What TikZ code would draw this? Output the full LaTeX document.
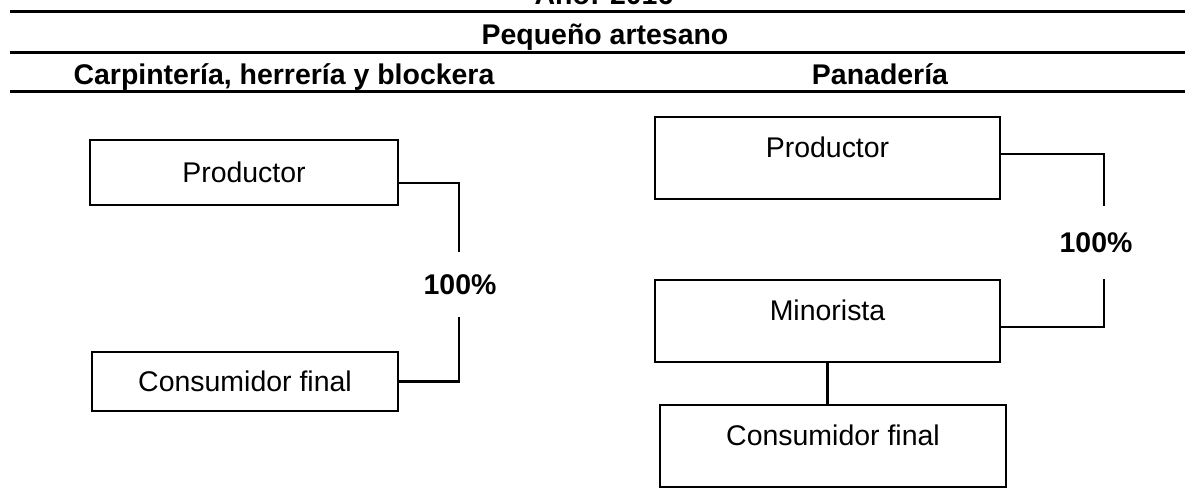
\documentclass[tikz,border=0pt]{standalone}
\usepackage{fontspec}
\setmainfont{Liberation Sans}
\newcommand{\letra}{\fontsize{16.2}{19}\selectfont}
\tikzset{
  caja/.style = {rectangle, draw, line width = 1.6pt, minimum width = 6.16cm, minimum height = 1.3cm},
  cajaalta/.style = {caja, minimum width = 6.9cm, minimum height = 1.64cm, text height = 0.42cm, text depth = 0.44cm},
  linea/.style = {line width = 1.6pt},
  titulo/.style = {anchor = base, font = \letra\bfseries},
  porcentaje/.style = {font = \letra\bfseries, inner sep = 0pt}
}
\begin{document}
\begin{tikzpicture}[font = \letra]
\useasboundingbox (0,0) rectangle (23.7,-10);
\clip (0,0) rectangle (23.7,-10);

%%% Encabezado

\node[titulo] (anio) at (12.08, -0.1) {Año: 2016};

\draw[linea] (0.2, -0.234) -- (23.7, -0.234);

\node[titulo] (artesano) at (12.1, -0.9) {Pequeño artesano};

\draw[linea] (0.2, -1.044) -- (23.7, -1.044);

\node[titulo] (carpinteria) at (5.68, -1.7) {Carpintería, herrería y blockera};

\node[titulo] (panaderia) at (17.6, -1.7) {Panadería};

\draw[linea] (0.2, -1.83) -- (23.7, -1.83);


%%% Carpinteria, herreria y blockera

\node[caja] (prodA) at (4.88, -3.45) {Productor};

\node[caja, minimum width = 6.12cm, minimum height = 1.18cm] (consA) at (4.9, -7.63) {Consumidor final};

\node[porcentaje, minimum height = 1.3cm] (pctA) at (9.2, -5.69) {100\%};

\draw[linea] ([yshift = -0.21cm]prodA.east) -| ([xshift = -0.02cm]pctA.north);

\draw[linea] ([xshift = -0.02cm]pctA.south) |- (consA.east);


%%% Panaderia

\node[cajaalta] (prodB) at (16.55, -3.16) {Productor};

\node[cajaalta] (minB) at (16.55, -6.42) {Minorista};

\node[cajaalta, minimum width = 6.92cm] (consB) at (16.66, -8.92) {Consumidor final};

\node[porcentaje, minimum height = 1.45cm] (pctB) at (21.92, -4.855) {100\%};

\draw[linea] ([yshift = 0.08cm]prodB.east) -| ([xshift = 0.16cm]pctB.north);

\draw[linea] ([xshift = 0.16cm]pctB.south) |- ([yshift = -0.12cm]minB.east);

\draw[linea] (minB.south) -- (minB.south |- consB.north);

\end{tikzpicture}
\end{document}
